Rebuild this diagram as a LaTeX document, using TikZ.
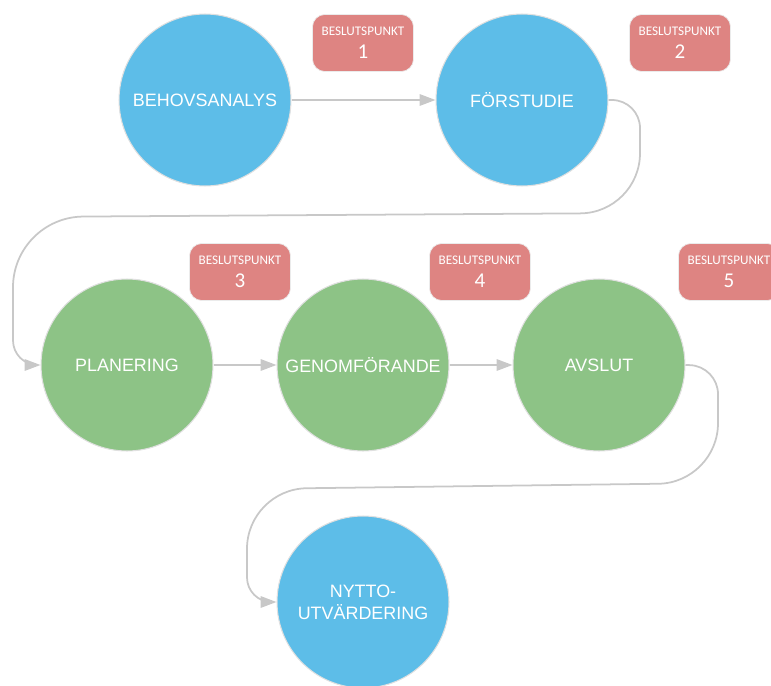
\documentclass[tikz,border=0pt]{standalone}
\usepackage{fontspec}
\setmainfont{Liberation Sans}
\newfontfamily\boxfont{Carlito}
\usetikzlibrary{arrows.meta}
\definecolor{fasblue}{HTML}{5DBDE8}
\definecolor{fasgreen}{HTML}{8DC386}
\definecolor{beslutred}{HTML}{DE8482}
\definecolor{pilgray}{HTML}{C8C8C8}
\tikzstyle{fas}=[circle,draw=black!12,line width=0.6pt,minimum size=3.44cm,inner sep=0pt,text=white,align=center,font=\fontsize{10.2}{12.5}\selectfont]
\tikzstyle{blafas}=[fas,fill=fasblue]
\tikzstyle{gronfas}=[fas,fill=fasgreen]
\tikzstyle{beslut}=[draw=black!8,fill=beslutred,rounded corners=7pt,minimum width=2.02cm,minimum height=1.14cm,inner sep=0pt,text=white,align=center,font=\boxfont]
\tikzstyle{pil}=[draw=pilgray,line width=1pt,-{Triangle[length=9pt,width=6.5pt]}]

\begin{document}
\begin{tikzpicture}[x=0.02cm,y=-0.02cm]
    \useasboundingbox (0,0) rectangle (771,686);
    % faser
    \foreach \pos/\name/\etikett in {{(205,100)/behov/BEHOVSANALYS}, {(522,100)/forstudie/FÖRSTUDIE}, {(363,602)/nytto/NYTTO-\\UTVÄRDERING}}
        \node[blafas] (\name) at \pos {\etikett};
    \foreach \pos/\name/\etikett in {{(127,365)/planering/PLANERING}, {(363,365)/genomf/GENOMFÖRANDE}, {(599,365)/avslut/AVSLUT}}
        \node[gronfas] (\name) at \pos {\etikett};
    % beslutspunkter
    \foreach \pos/\nr in {{(363,43)/1}, {(680,43)/2}, {(240,272)/3}, {(480,272)/4}, {(729,272)/5}}
        \node[beslut] (bp\nr) at \pos {{\fontsize{7.5}{9}\selectfont BESLUTSPUNKT}\\[1pt]{\fontsize{12}{13}\selectfont \nr}};
    % pilar
    \foreach \source/\dest in {behov/forstudie, planering/genomf, genomf/avslut}
        \path[pil] (\source) -- (\dest);
    \path[pil] (forstudie.east) [rounded corners=16pt] -- (640,100) [rounded corners=34pt] -- (640,213) [rounded corners=40pt] -- (13,217) [rounded corners=14pt] -- (13,365) -- (planering.west);
    \path[pil] (avslut.east) [rounded corners=16pt] -- (718,366) [rounded corners=34pt] -- (718,483) [rounded corners=34pt] -- (247,489) [rounded corners=14pt] -- (247,602) -- (nytto.west);
\end{tikzpicture}
\end{document}
